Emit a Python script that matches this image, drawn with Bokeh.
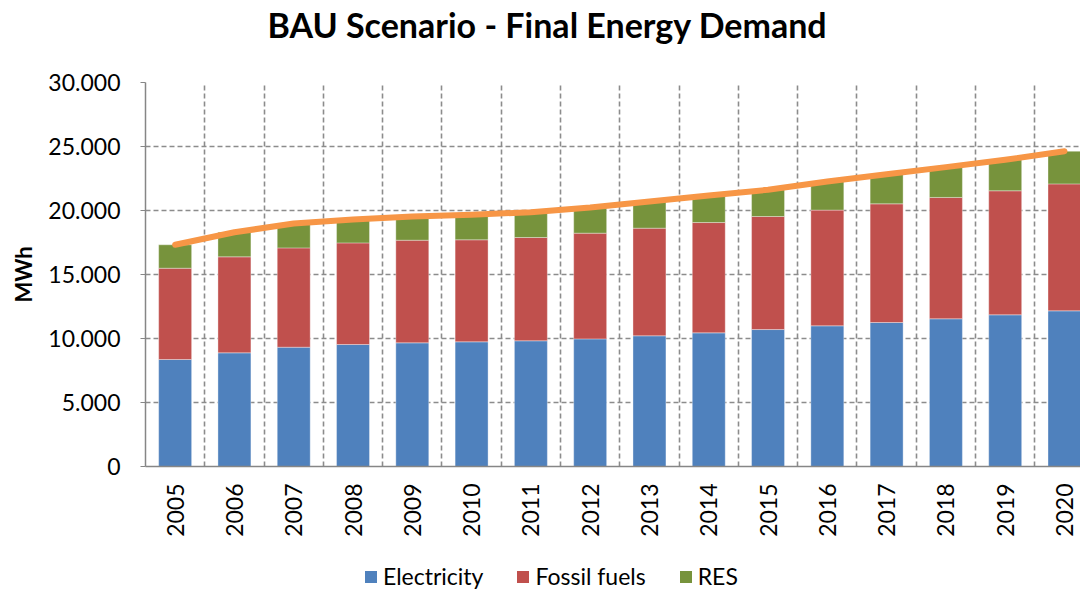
from math import pi
from bokeh.plotting import figure
from bokeh.layouts import column
from bokeh.models import ColumnDataSource, Range1d, FixedTicker, Legend, LegendItem, Label
from bokeh.embed import file_html
from bokeh.resources import INLINE

years = ["2005", "2006", "2007", "2008", "2009", "2010", "2011", "2012",
         "2013", "2014", "2015", "2016", "2017", "2018", "2019", "2020"]
electricity = [8360, 8880, 9320, 9530, 9660, 9740, 9820, 9970,
               10210, 10440, 10700, 10990, 11250, 11540, 11850, 12160]
fossil_fuels = [7130, 7500, 7760, 7940, 8020, 7970, 8070, 8260,
                8410, 8620, 8830, 9040, 9270, 9480, 9690, 9920]
res = [1830, 1920, 1900, 1830, 1850, 1950, 1980, 2000,
       2080, 2110, 2090, 2240, 2320, 2370, 2420, 2550]
y_ticks = [0, 5000, 10000, 15000, 20000, 25000, 30000]
y_tick_labels = ["0", "5.000", "10.000", "15.000", "20.000", "25.000", "30.000"]

title_text = "BAU Scenario - Final Energy Demand"
series_names = ["Electricity", "Fossil fuels", "RES"]
colors = ["#4F81BD", "#C0504D", "#77933C"]
FONT = "Lato"

xs = [i + 0.5 for i in range(len(years))]
total = [e + f + r for e, f, r in zip(electricity, fossil_fuels, res)]
source = ColumnDataSource(dict(x=xs, year=years, Electricity=electricity,
                               **{"Fossil fuels": fossil_fuels}, RES=res, total=total))


def strip(height):
    f = figure(width=1080, height=height, output_backend="svg", toolbar_location=None,
               x_range=Range1d(0, 935), y_range=Range1d(0, height), title=None,
               x_axis_location=None, y_axis_location=None, min_border=0)
    f.outline_line_color = None
    f.grid.visible = False
    return f


# title strip (frame is aligned with the chart frame: x 0 = chart's left axis)
tp = strip(54)
tp.add_layout(Label(x=402, y=30, text=title_text, text_align="center",
                    text_baseline="alphabetic", text_font=FONT, text_font_size="34px",
                    text_font_style="bold", text_color="black"))

p = figure(width=1080, height=498, output_backend="svg", toolbar_location=None, title=None,
           x_range=Range1d(0, 15.77), y_range=Range1d(0, 30000),
           min_border_left=145, min_border_right=0, min_border_top=28, min_border_bottom=86)
p.outline_line_color = None

p.vbar_stack(series_names, x="x", width=0.556, source=source,
             fill_color=colors, line_color="white", line_alpha=0.35, line_width=1)
p.line(x="x", y="total", source=source, line_color="#F79646", line_width=6, line_cap="round",
       line_join="round")

# grids
p.ygrid.ticker = FixedTicker(ticks=y_ticks)
p.xgrid.ticker = FixedTicker(ticks=list(range(len(years) + 1)))
for g in (p.xgrid, p.ygrid):
    g.grid_line_color = "#8C8C8C"
    g.grid_line_dash = "5 3"
    g.grid_line_width = 1.6

# y axis
ya = p.yaxis[0]
ya.ticker = FixedTicker(ticks=y_ticks)
ya.major_label_overrides = {t: l for t, l in zip(y_ticks, y_tick_labels)}
ya.axis_label = "MWh"
ya.axis_label_text_font = FONT
ya.axis_label_text_font_style = "bold"
ya.axis_label_text_font_size = "22px"
ya.axis_label_text_color = "black"
ya.axis_label_standoff = 8
ya.major_label_text_font = FONT
ya.major_label_text_font_size = "23px"
ya.major_label_text_color = "black"
ya.major_label_standoff = 20
ya.axis_line_color = "#868686"
ya.axis_line_width = 1.5
ya.major_tick_line_color = "#868686"
ya.major_tick_out = 5
ya.major_tick_in = 0
ya.minor_tick_line_color = None

# x axis
xa = p.xaxis[0]
xa.ticker = FixedTicker(ticks=xs)
xa.major_label_overrides = {x: y for x, y in zip(xs, years)}
xa.major_label_orientation = pi / 2
xa.major_label_text_font = FONT
xa.major_label_text_font_size = "23px"
xa.major_label_text_color = "black"
xa.major_label_standoff = 11
xa.axis_line_color = "#868686"
xa.axis_line_width = 1.5
xa.major_tick_line_color = None
xa.minor_tick_line_color = None

# legend strip below the chart
lp = strip(38)
proxies = [lp.vbar(x=[-50], top=[0], bottom=[0], width=1, fill_color=c, line_color=None)
           for c in colors]
legend = Legend(items=[LegendItem(label=n, renderers=[r]) for n, r in zip(series_names, proxies)],
                orientation="horizontal", location=(218, 0), padding=0, margin=0,
                spacing=32, label_standoff=5, glyph_width=15, glyph_height=15,
                label_text_font=FONT, label_text_font_size="23px", label_text_color="black",
                border_line_color=None, background_fill_alpha=0)
lp.add_layout(legend, "center")

open("out.html", "w").write(file_html(column(tp, p, lp, spacing=0), INLINE))
